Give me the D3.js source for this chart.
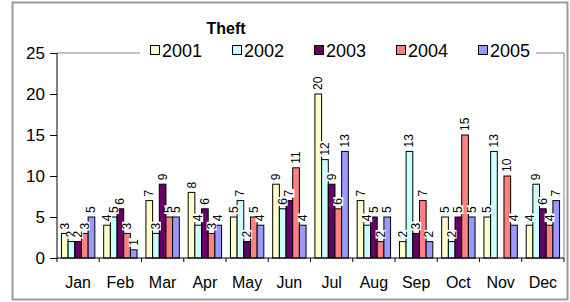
<!DOCTYPE html>
<html>
<head>
<meta charset="utf-8">
<script src="https://cdn.jsdelivr.net/npm/d3@7"></script>
<style>
  body { margin: 0; background: #fff; }
  svg { display: block; font-family: "Liberation Sans", Arial, sans-serif; }
</style>
</head>
<body>
<svg id="chart" width="570" height="302"></svg>
<script>
// data
const months = ["Jan", "Feb", "Mar", "Apr", "May", "Jun", "Jul", "Aug", "Sep", "Oct", "Nov", "Dec"]
const years = ["2001", "2002", "2003", "2004", "2005"]
const v2001 = [3, 4, 7, 8, 5, 9, 20, 7, 2, 5, 5, 4]
const v2002 = [2, 5, 3, 4, 7, 6, 12, 4, 13, 2, 13, 9]
const v2003 = [2, 6, 9, 6, 2, 7, 9, 5, 3, 5, null, 6]
const v2004 = [3, 3, 5, 3, 5, 11, 6, 2, 7, 15, 10, 4]
const v2005 = [5, 1, 5, 4, 4, 4, 13, 5, 2, 5, 4, 7]
const yTicks = [0, 5, 10, 15, 20, 25]
const colors = ["#FFFFCC", "#CCFFFF", "#660066", "#FF8080", "#9999FF"]

const series = [v2001, v2002, v2003, v2004, v2005]

const svg = d3.select("#chart")

// outer frame
svg.append("rect")
  .attr("x", 12.5).attr("y", 2.5).attr("width", 555).attr("height", 297)
  .attr("fill", "none").attr("stroke", "#9a9a9a").attr("stroke-width", 2)

const plotL = 57, plotR = 564, plotT = 53, plotB = 258

const x0 = d3.scaleBand().domain(months).range([plotL, plotR]).paddingInner(0.21).paddingOuter(0.105)
const x1 = d3.scaleBand().domain(years).range([0, x0.bandwidth()])
const y = d3.scaleLinear().domain([0, 25]).range([plotB, plotT])

// plot border (top/right gray)
svg.append("path")
  .attr("d", `M${plotL},${plotT}H${plotR}V${plotB}`)
  .attr("fill", "none").attr("stroke", "#808080").attr("stroke-width", 1)

// bars
const g = svg.append("g")
months.forEach((m, i) => {
  years.forEach((yr, j) => {
    const v = series[j][i]
    if (v == null) return
    g.append("rect")
      .attr("x", x0(m) + x1(yr))
      .attr("y", y(v))
      .attr("width", x1.bandwidth())
      .attr("height", plotB - y(v))
      .attr("fill", colors[j])
      .attr("stroke", "#000").attr("stroke-width", 1)
  })
})

// value labels, rotated with white background
const lab = svg.append("g")
months.forEach((m, i) => {
  years.forEach((yr, j) => {
    const v = series[j][i]
    if (v == null) return
    const cx = x0(m) + x1(yr) + x1.bandwidth() / 2
    const by = y(v) - 3
    const tg = lab.append("g").attr("transform", `translate(${cx},${by}) rotate(-90)`)
    const t = tg.append("text")
      .attr("x", 1).attr("y", 4)
      .attr("font-size", 12).attr("fill", "#000")
      .text(v)
    const w = t.node().getComputedTextLength()
    tg.insert("rect", "text")
      .attr("x", 0).attr("y", -5).attr("width", w + 2).attr("height", 10)
      .attr("fill", "#fff")
  })
})

// y axis
const yAxis = d3.axisLeft(y).tickValues(yTicks).tickSize(7).tickPadding(5)
svg.append("g").attr("transform", `translate(${plotL},0)`).call(yAxis)
  .call(a => a.select(".domain").attr("d", `M0,${plotT}V${plotB}`))
  .call(a => a.selectAll("text").attr("font-size", 17).attr("font-family", "Liberation Sans, Arial, sans-serif"))

// x axis
svg.append("path").attr("d", `M${plotL},${plotB}H${plotR}`).attr("stroke", "#000")
const step = (plotR - plotL) / months.length
d3.range(months.length + 1).forEach(k => {
  svg.append("line")
    .attr("x1", plotL + k * step).attr("x2", plotL + k * step)
    .attr("y1", plotB).attr("y2", plotB + 4)
    .attr("stroke", "#000")
})
svg.append("g").selectAll("text").data(months).join("text")
  .attr("x", d => x0(d) + x0.bandwidth() / 2)
  .attr("y", 288)
  .attr("text-anchor", "middle")
  .attr("font-size", 16)
  .text(d => d)

// title
svg.append("text")
  .attr("x", 226).attr("y", 34)
  .attr("text-anchor", "middle")
  .attr("font-size", 16).attr("font-weight", "bold")
  .text("Theft")

// legend
const lg = svg.append("g")
lg.append("rect").attr("x", 140).attr("y", 43).attr("width", 396).attr("height", 16).attr("fill", "#fff")
years.forEach((yr, j) => {
  const lx = 150 + j * 82
  lg.append("rect")
    .attr("x", lx + 0.5).attr("y", 45.5).attr("width", 9).attr("height", 9)
    .attr("fill", colors[j]).attr("stroke", "#000")
  lg.append("text")
    .attr("x", lx + 12).attr("y", 57)
    .attr("font-size", 18)
    .text(yr)
})
</script>
</body>
</html>
